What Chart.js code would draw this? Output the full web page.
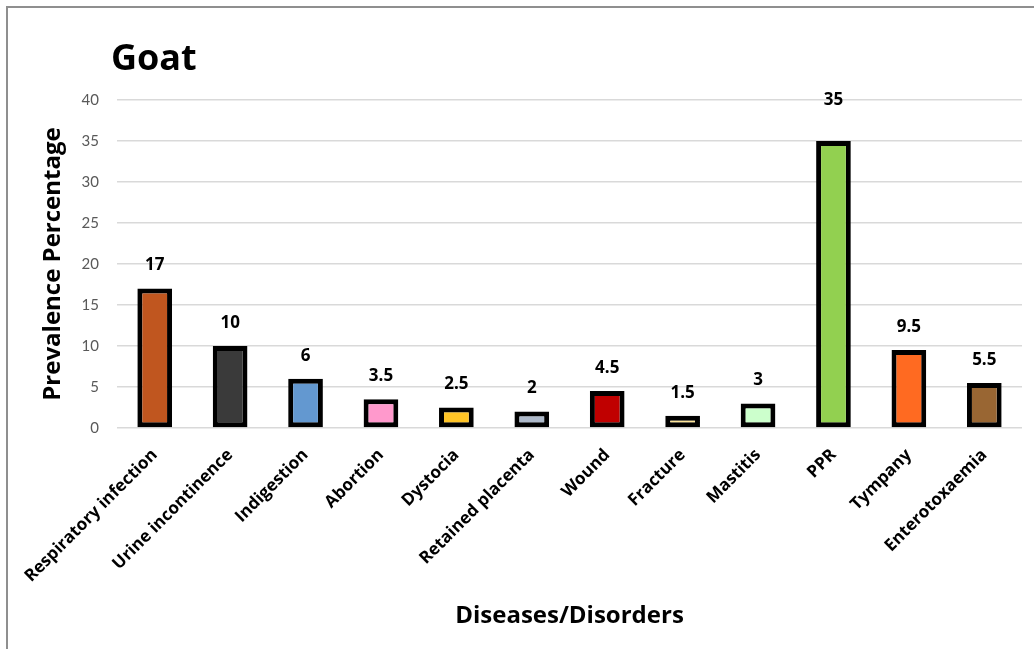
<!DOCTYPE html>
<html>
<head>
<meta charset="utf-8">
<title>Goat</title>
<script src="https://cdn.jsdelivr.net/npm/chart.js@4.4.1/dist/chart.umd.min.js"></script>
<style>
  html, body { margin: 0; padding: 0; background: #ffffff; }
  #wrap { position: relative; width: 1034px; height: 649px; overflow: hidden; }
  #frame {
    position: absolute; left: 6px; top: 6px; right: -10px; bottom: -10px;
    border-top: 2px solid #8f8f8f; border-left: 2px solid #8f8f8f;
    pointer-events: none;
  }
  canvas { position: absolute; left: 0; top: 0; }
</style>
</head>
<body>
<div id="wrap">
  <canvas id="chart" width="1034" height="649"></canvas>
  <div id="frame"></div>
</div>
<script>
// Goat disease prevalence (%)
const categories = [
  'Respiratory infection', 'Urine incontinence', 'Indigestion', 'Abortion',
  'Dystocia', 'Retained placenta', 'Wound', 'Fracture', 'Mastitis', 'PPR',
  'Tympany', 'Enterotoxaemia'
];
const prevalence = [17, 10, 6, 3.5, 2.5, 2, 4.5, 1.5, 3, 35, 9.5, 5.5];
const barColors = [
  '#C0561F', '#3A3A3A', '#6398D0', '#FF99CC', '#FFC426', '#ADB9CA',
  '#C00000', '#FFE699', '#CCFFCC', '#92D050', '#FF6A21', '#996633'
];
const yTicks = [0, 5, 10, 15, 20, 25, 30, 35, 40];

const FONT = '"Open Sans", "Noto Sans", "DejaVu Sans", sans-serif';
const TICK_FONT = 'Lato, "Open Sans", sans-serif';

// Value labels above each bar, plus the chart heading
const annotate = {
  id: 'annotate',
  afterDatasetsDraw(chart, args, opts) {
    const ctx = chart.ctx;
    const meta = chart.getDatasetMeta(0);
    ctx.save();
    ctx.fillStyle = '#000000';
    ctx.font = 'bold 17px ' + FONT;
    ctx.textAlign = 'center';
    ctx.textBaseline = 'middle';
    meta.data.forEach((bar, i) => {
      const lift = (opts.lift && opts.lift[categories[i]]) || opts.defaultLift;
      ctx.fillText(String(prevalence[i]), bar.x, bar.y - lift);
    });
    ctx.font = 'bold 36px ' + FONT;
    ctx.textAlign = 'left';
    ctx.fillText('Goat', 111, 60);
    ctx.restore();
  }
};

new Chart(document.getElementById('chart'), {
  type: 'bar',
  data: {
    labels: categories,
    datasets: [{
      data: prevalence,
      backgroundColor: barColors,
      borderColor: '#000000',
      borderWidth: 5,
      borderSkipped: false,
      barPercentage: 0.46,
      categoryPercentage: 1.0
    }]
  },
  options: {
    responsive: false,
    animation: false,
    devicePixelRatio: 1,
    layout: { padding: { left: 0, top: 100, right: 12, bottom: 0 } },
    plugins: {
      legend: { display: false },
      title: { display: false },
      tooltip: { enabled: false },
      annotate: { defaultLift: 23, lift: { 'PPR': 41 } }
    },
    scales: {
      x: {
        grid: { display: false, drawTicks: false },
        border: { display: false },
        ticks: {
          color: '#000000',
          font: { family: FONT, size: 17, weight: 'bold' },
          maxRotation: 45,
          minRotation: 45,
          autoSkip: false,
          padding: 17
        },
        title: {
          display: true,
          text: 'Diseases/Disorders',
          color: '#000000',
          font: { family: FONT, size: 24, weight: 'bold' },
          padding: { top: 0, bottom: 18 }
        },
        afterFit(scale) { scale.height = 221; }
      },
      y: {
        min: 0,
        max: 40,
        afterBuildTicks(scale) { scale.ticks = yTicks.map(v => ({ value: v })); },
        grid: { color: '#D9D9D9', lineWidth: 1.5, drawTicks: false },
        border: { display: false },
        ticks: {
          color: '#595959',
          font: { family: TICK_FONT, size: 15 },
          padding: 18
        },
        title: {
          display: true,
          text: 'Prevalence Percentage',
          color: '#000000',
          font: { family: FONT, size: 24, weight: 'bold' },
          padding: { top: 39, bottom: 0 }
        },
        afterFit(scale) { scale.width = 117; }
      }
    }
  },
  plugins: [annotate]
});
</script>
</body>
</html>
